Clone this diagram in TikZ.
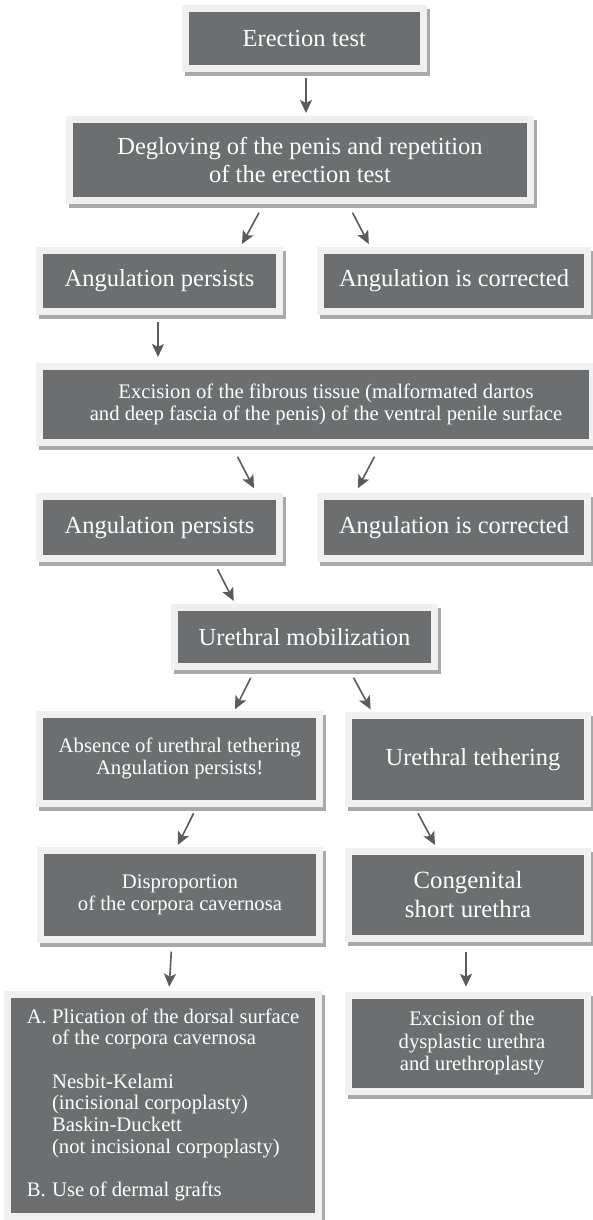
\documentclass[tikz,border=0pt]{standalone}
\usepackage{fontspec}
\setmainfont{Liberation Serif}
\usetikzlibrary{arrows.meta,shadows}

\definecolor{boxgray}{HTML}{6D6E70}
\definecolor{framegray}{HTML}{F0F0F0}
\definecolor{shadegray}{HTML}{A9A9A9}
\definecolor{arrowgray}{HTML}{5B5B5D}

\begin{document}
\begin{tikzpicture}[x=1pt,y=-1pt,
    panel/.style={fill=boxgray, draw=framegray, line width=7pt, outer sep=0pt,
      inner sep=0pt, text=white, align=center,
      drop shadow={shadow xshift=3pt, shadow yshift=-4pt, fill=shadegray,
        draw=shadegray, opacity=1}},
    bigbox/.style={panel, font=\fontsize{24.5}{28}\selectfont},
    smallbox/.style={panel, font=\fontsize{20.7}{22}\selectfont},
    arr/.style={draw=arrowgray, line width=1.6pt,
      -{Stealth[length=13pt,width=12pt,inset=3pt]}}]

    \useasboundingbox[fill=white] (0,0) rectangle (593,1220);

    % first test
    \node[bigbox, minimum width=238.5pt, minimum height=60pt] (erect) at (304.3,38.5) {Erection test};

    % degloving
    \node[bigbox, minimum width=461pt, minimum height=81pt] (deglove) at (300,160)
        {Degloving of the penis and repetition\\of the erection test};
    \draw[arr] ([shift={(1.7,9.5)}]erect.south) to ([shift={(6,-6.5)}]deglove.north);

    %%%%%%%%%%%%%%%%%%%%%%%%%%%%%%%%%%%%%%%%%%%%%%%%%%%%%%%%%

    % outcome after degloving
    \node[bigbox, minimum width=240pt, minimum height=61pt] (persA) at (159.5,281) {Angulation persists};
    \node[bigbox, minimum width=267pt, minimum height=61pt] (corrA) at (454,281) {Angulation is corrected};
    \draw[arr] ([shift={(-41,12.2)}]deglove.south) to ([shift={(82.5,-6.5)}]persA.north);
    \draw[arr] ([shift={(52.5,12.2)}]deglove.south) to ([shift={(-85.2,-6.5)}]corrA.north);

    % excision of the fibrous tissue
    \node[smallbox, minimum width=553pt, minimum height=76pt] (excise) at (316,404.5)
        {\hspace*{20pt}Excision of the fibrous tissue (malformated dartos\\
         \hspace*{20pt}and deep fascia of the penis) of the ventral penile surface};
    \draw[arr] ([shift={(-1.5,10.5)}]persA.south) to ([shift={(-158,-9.5)}]excise.north);

    % outcome after excision
    \node[bigbox, minimum width=240pt, minimum height=62pt] (persB) at (159.5,527.5) {Angulation persists};
    \node[bigbox, minimum width=267pt, minimum height=62pt] (corrB) at (454,527.5) {Angulation is corrected};
    \draw[arr] ([shift={(-78.5,14.2)}]excise.south) to ([shift={(94.5,-8.2)}]persB.north);
    \draw[arr] ([shift={(58.4,14.2)}]excise.south) to ([shift={(-96.2,-8.2)}]corrB.north);

    %%%%%%%%%%%%%%%%%%%%%%%%%%%%%%%%%%%%%%%%%%%%%%%%%%%%%%%%%

    % urethra
    \node[bigbox, minimum width=260pt, minimum height=59pt] (mobil) at (304.5,637) {Urethral mobilization};
    \draw[arr] ([shift={(58,10.8)}]persB.south) to ([shift={(-70.8,-6.5)}]mobil.north);

    \node[smallbox, minimum width=280.4pt, minimum height=89pt] (absent) at (179.7,758.7)
        {Absence of urethral tethering\\Angulation persists!};
    \node[bigbox, minimum width=239pt, minimum height=87.7pt] (tether) at (468,759.4)
        {\hspace*{10pt}Urethral tethering};
    \draw[arr] ([shift={(-53.7,11.2)}]mobil.south) to ([shift={(55.3,-4.9)}]absent.north);
    \draw[arr] ([shift={(49.1,11.2)}]mobil.south) to ([shift={(-97.4,-6.2)}]tether.north);

    % causes
    \node[smallbox, minimum width=279.7pt, minimum height=89pt] (dispro) at (180,894.7)
        {Disproportion\\of the corpora cavernosa};
    \node[bigbox, minimum width=239pt, minimum height=86.4pt, font=\fontsize{24.8}{29}\selectfont] (shortu) at (468,895)
        {Congenital\\short urethra};
    \draw[arr] ([shift={(13.9,10.1)}]absent.south) to ([shift={(-2.2,-5.2)}]dispro.north);
    \draw[arr] ([shift={(-50,10.1)}]tether.south) to ([shift={(-33,-6.8)}]shortu.north);

    % treatment
    \node[smallbox, minimum width=311.8pt, minimum height=222pt, font=\fontsize{20.7}{21.7}\selectfont] (plicat) at (163,1105.5)
        {\begin{tabular}{@{}l@{\ }l@{}}
          A. & Plication of the dorsal surface\\
             & of the corpora cavernosa\\
             & \\
             & Nesbit-Kelami\\
             & (incisional corpoplasty)\\
             & Baskin-Duckett\\
             & (not incisional corpoplasty)\\
             & \\
          B. & Use of dermal grafts
        \end{tabular}};
    \node[smallbox, minimum width=239pt, minimum height=96.3pt, font=\fontsize{20.7}{22.5}\selectfont] (urplasty) at (468,1043.4)
        {\hspace*{8pt}Excision of the\\\hspace*{8pt}dysplastic urethra\\\hspace*{8pt}and urethroplasty};
    \draw[arr] ([shift={(-8.7,12.5)}]dispro.south) to ([shift={(6.2,-7.8)}]plicat.north);
    \draw[arr] ([shift={(-2,13.5)}]shortu.south) to ([shift={(-2,-8.5)}]urplasty.north);

\end{tikzpicture}
\end{document}
